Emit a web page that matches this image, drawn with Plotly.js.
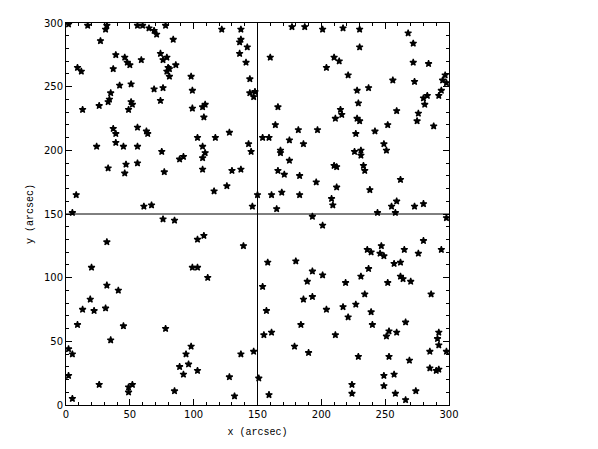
<!DOCTYPE html>
<html>
<head>
<meta charset="utf-8">
<script src="https://cdn.plot.ly/plotly-3.0.1.min.js"></script>
<style>html,body{margin:0;padding:0;background:#fff;}#chart{width:598px;height:449px;}</style>
</head>
<body>
<div id="chart"></div>
<script>
// Source positions (arcsec)
var xPos = [
 2,17,32,31,56,60,65,69,71,78,27,84,39,46,74,76,79,59,48,50,9,12,37,80,81,86,79,81,98,42,51,69,76,99,35,34,33,51,52,74,26,49,13,99,37,39,56,63,64,39,24,45,56,75,
 122,137,137,136,142,136,141,160,177,187,201,144,144,148,147,166,107,109,108,164,128,182,197,103,117,154,159,175,143,186,107,145,168,109,
 217,230,268,272,230,210,214,204,272,284,221,297,295,298,256,273,228,237,294,292,283,280,281,229,215,216,211,259,276,228,230,275,252,288,227,242,249,226,231,251,
 89,92,33,47,56,46,77,8,5,61,67,76,85,32,20,99,
 107,168,175,107,130,137,166,171,183,196,116,126,150,161,169,183,146,165,193,201,108,103,139,158,180,103,111,193,189,201,
 231,210,212,233,234,262,212,238,208,209,259,255,273,280,244,258,298,280,247,236,239,265,294,246,249,276,257,262,237,231,262,264,270,219,252,
 32,41,19,13,22,31,9,45,78,35,2,5,98,94,89,96,92,2,26,49,52,49,85,5,
 154,186,193,157,184,155,161,137,147,179,190,103,128,151,132,159,
 234,286,204,217,227,239,221,240,266,253,259,251,292,291,292,211,285,298,229,253,269,285,290,292,249,257,224,249,224,274,258,266
];
var yPos = [
 299,298,298,295,298,298,296,294,291,298,286,287,275,273,276,271,273,271,269,267,265,262,264,265,264,267,262,258,258,251,252,248,249,247,245,240,238,238,236,239,235,232,232,233,217,213,218,215,213,206,203,203,203,199,
 295,295,287,285,281,276,269,273,297,297,295,256,245,246,242,234,234,236,226,220,214,216,216,210,210,210,210,208,205,205,203,199,200,198,
 296,295,292,284,281,273,270,265,269,268,259,259,255,253,255,254,247,249,247,243,243,241,236,237,232,228,225,231,229,225,223,223,220,219,213,215,205,199,200,200,
 193,195,186,189,190,182,183,165,151,156,157,146,145,128,108,108,
 194,198,192,185,184,185,184,181,180,175,168,172,165,165,167,165,156,154,148,141,133,130,125,112,113,108,100,105,97,102,
 196,188,187,188,184,177,171,169,162,157,160,156,156,158,151,151,147,129,125,122,120,122,122,119,117,119,111,112,107,101,101,99,97,96,96,
 94,90,83,75,74,76,63,62,60,51,44,40,46,40,30,32,24,23,16,14,16,10,11,5,
 93,83,85,74,63,55,57,40,42,46,41,27,22,21,7,8,
 87,87,75,77,79,73,69,63,65,58,57,54,57,52,47,55,42,42,38,38,35,29,27,28,23,24,16,15,9,11,9,4
];
var xTicks = [0,50,100,150,200,250,300];
var yTicks = [0,50,100,150,200,250,300];
var divider = 150;

var trace = {
  x: xPos, y: yPos, type: 'scatter', mode: 'markers',
  marker: {symbol: 'star', size: 5, color: '#000', line: {color: '#000', width: 1.2}},
  hoverinfo: 'none', showlegend: false
};

var fnt = {family: 'DejaVu Sans, sans-serif', size: 10, color: '#000'};
function axis(title, ticks) {
  return {
    range: [0, 300], tickvals: ticks, ticktext: ticks.map(String),
    ticks: 'inside', ticklen: 6, tickwidth: 1, tickcolor: '#000',
    minor: {dtick: 10, ticks: 'inside', ticklen: 3, tickcolor: '#000', tickwidth: 1},
    showline: true, linecolor: '#000', linewidth: 1, mirror: 'allticks',
    showgrid: false, zeroline: false, tickfont: fnt,
    title: {text: title, font: {family: 'Liberation Mono, DejaVu Sans Mono, monospace', size: 10, color: '#000'}, standoff: 8},
    fixedrange: true
  };
}

var layout = {
  width: 598, height: 449,
  margin: {l: 66, r: 149, t: 23, b: 44},
  paper_bgcolor: '#fff', plot_bgcolor: '#fff',
  xaxis: axis('x (arcsec)', xTicks),
  yaxis: axis('y (arcsec)', yTicks),
  shapes: [
    {type: 'line', xref: 'x', yref: 'paper', x0: divider, x1: divider, y0: 0, y1: 1, line: {color: '#000', width: 1}},
    {type: 'line', xref: 'paper', yref: 'y', x0: 0, x1: 1, y0: divider, y1: divider, line: {color: '#000', width: 1}}
  ]
};

Plotly.newPlot('chart', [trace], layout, {displayModeBar: false, staticPlot: true});
</script>
</body>
</html>
